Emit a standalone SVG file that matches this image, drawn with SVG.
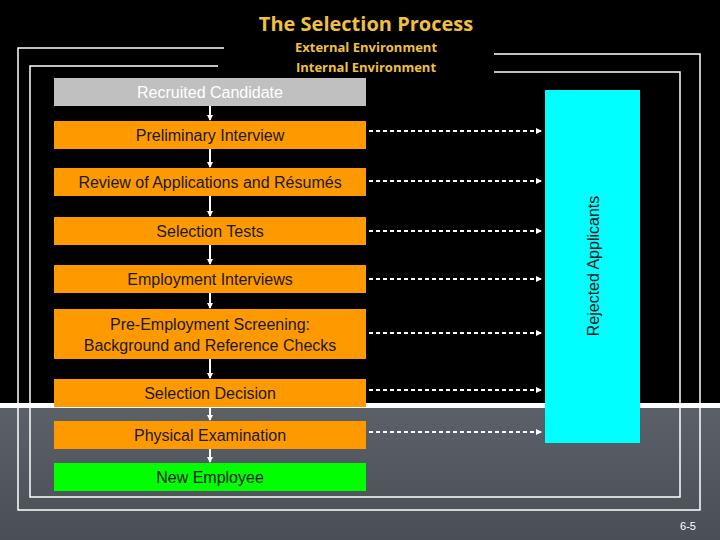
<svg xmlns="http://www.w3.org/2000/svg" width="720" height="540" viewBox="0 0 720 540">
<defs>
<linearGradient id="bg" x1="0" y1="0" x2="0" y2="1"><stop offset="0" stop-color="#5c6068"/><stop offset="0.5" stop-color="#6e737c"/><stop offset="1" stop-color="#4a4e55"/></linearGradient>
<marker id="ah" markerWidth="6" markerHeight="6" refX="5" refY="3" orient="auto" markerUnits="userSpaceOnUse"><path d="M0,0L6,3L0,6Z" fill="#fff"/></marker>
</defs>
<style>
.box{stroke:none}
.or{fill:#ff9900}
.t{font-family:"Liberation Sans",Arial,sans-serif;font-size:16px;fill:#1a1a1a;text-anchor:middle}
.fr{fill:none;stroke:#fff;stroke-width:1.5}
.v{stroke:#fff;stroke-width:2;marker-end:url(#ah)}
.d{stroke:#fff;stroke-width:2;stroke-dasharray:4,3;marker-end:url(#ah)}
.y{font-family:"Open Sans","Liberation Sans",sans-serif;font-size:13px;font-weight:bold;fill:#f0c040;text-anchor:middle}
</style>
<rect width="720" height="540" fill="url(#bg)"/>
<rect width="720" height="403" fill="#000"/>
<rect y="403" width="720" height="5" fill="#fff"/>
<text x="366" y="31" font-family="Open Sans,Liberation Sans,sans-serif" font-size="20" font-weight="bold" fill="#f0c040" text-anchor="middle">The Selection Process</text>
<text class="y" x="366" y="52">External Environment</text>
<text class="y" x="366" y="72">Internal Environment</text>
<path class="fr" d="M224,48H18V510H700V54H494"/>
<path class="fr" d="M218,66H30V497H680V72H494"/>
<g id="connectors">
<line class="v" x1="210" y1="106" x2="210" y2="120"/>
<line class="v" x1="210" y1="149" x2="210" y2="167"/>
<line class="v" x1="210" y1="196" x2="210" y2="216"/>
<line class="v" x1="210" y1="245" x2="210" y2="264"/>
<line class="v" x1="210" y1="293" x2="210" y2="308"/>
<line class="v" x1="210" y1="359" x2="210" y2="378"/>
<line class="v" x1="210" y1="407" x2="210" y2="420"/>
<line class="v" x1="210" y1="449" x2="210" y2="462"/>
<line class="d" x1="369" y1="131" x2="541" y2="131"/>
<line class="d" x1="369" y1="181" x2="541" y2="181"/>
<line class="d" x1="369" y1="231" x2="541" y2="231"/>
<line class="d" x1="369" y1="279" x2="541" y2="279"/>
<line class="d" x1="369" y1="333" x2="541" y2="333"/>
<line class="d" x1="369" y1="390" x2="541" y2="390"/>
<line class="d" x1="369" y1="432" x2="541" y2="432"/>
</g>
<g id="recruited"><rect x="54" y="78" width="312" height="28" fill="#c0c0c0"/><text class="t" x="210" y="98" fill="#fff" style="fill:#fff">Recruited Candidate</text></g>
<g id="prelim"><rect class="or" x="54" y="121" width="312" height="28"/><text class="t" x="210" y="141">Preliminary Interview</text></g>
<g id="review"><rect class="or" x="54" y="168" width="312" height="28"/><text class="t" x="210" y="188">Review of Applications and Résumés</text></g>
<g id="tests"><rect class="or" x="54" y="217" width="312" height="28"/><text class="t" x="210" y="237">Selection Tests</text></g>
<g id="interviews"><rect class="or" x="54" y="265" width="312" height="28"/><text class="t" x="210" y="285">Employment Interviews</text></g>
<g id="screening"><rect class="or" x="54" y="309" width="312" height="50"/><text class="t" x="210" y="330">Pre-Employment Screening:</text><text class="t" x="210" y="351">Background and Reference Checks</text></g>
<g id="decision"><rect class="or" x="54" y="379" width="312" height="28"/><text class="t" x="210" y="399">Selection Decision</text></g>
<g id="physical"><rect class="or" x="54" y="421" width="312" height="28"/><text class="t" x="210" y="441">Physical Examination</text></g>
<g id="newemp"><rect x="54" y="463" width="312" height="28" fill="#00ff00"/><text class="t" x="210" y="483">New Employee</text></g>
<g id="rejected"><rect x="545" y="90" width="95" height="353" fill="#00ffff"/><text class="t" transform="translate(599,266) rotate(-90)">Rejected Applicants</text></g>
<text x="688" y="530" font-family="Liberation Sans,sans-serif" font-size="11" fill="#fff" text-anchor="middle">6-5</text>
</svg>
